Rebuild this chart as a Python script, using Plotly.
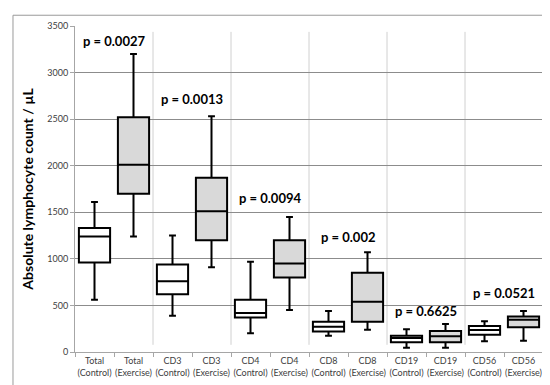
import plotly.graph_objects as go

groups = ["Total", "CD3", "CD4", "CD8", "CD19", "CD56"]
p_values = ["0.0027", "0.0013", "0.0094", "0.002", "0.6625", "0.0521"]

# five-number summaries: lower whisker, Q1, median, Q3, upper whisker
control_low = [560, 390, 200, 175, 45, 115]
control_q1 = [960, 620, 370, 220, 105, 185]
control_med = [1240, 760, 420, 270, 150, 235]
control_q3 = [1330, 940, 560, 325, 175, 280]
control_high = [1610, 1250, 970, 440, 245, 330]

exercise_low = [1240, 910, 450, 240, 45, 120]
exercise_q1 = [1700, 1200, 800, 325, 105, 265]
exercise_med = [2010, 1510, 950, 540, 170, 345]
exercise_q3 = [2520, 1870, 1200, 850, 225, 380]
exercise_high = [3200, 2530, 1450, 1070, 300, 440]

label_y = [3340, 2715, 1655, 1230, 440, 635]

cats = []
for g in groups:
    cats += [f"{g}<br>(Control)", f"{g}<br>(Exercise)"]
ctrl_x = [cats[2 * i] for i in range(len(groups))]
ex_x = [cats[2 * i + 1] for i in range(len(groups))]

font = "Lato"

fig = go.Figure()
fig.add_trace(go.Box(
    x=ctrl_x, q1=control_q1, median=control_med, q3=control_q3,
    lowerfence=control_low, upperfence=control_high,
    fillcolor="white", line=dict(color="black", width=2),
    width=0.8, whiskerwidth=0.22, boxpoints=False, showlegend=False,
    hoverinfo="skip"))
fig.add_trace(go.Box(
    x=ex_x, q1=exercise_q1, median=exercise_med, q3=exercise_q3,
    lowerfence=exercise_low, upperfence=exercise_high,
    fillcolor="#d9d9d9", line=dict(color="black", width=2),
    width=0.8, whiskerwidth=0.22, boxpoints=False, showlegend=False,
    hoverinfo="skip"))

for i, p in enumerate(p_values):
    fig.add_annotation(x=2 * i + 0.5, y=label_y[i], text=f"<b>p = {p}</b>",
                       showarrow=False, xref="x", yref="y",
                       font=dict(size=13, color="black", family=font))

# vertical separators between group pairs (decorative gridlines)
shapes = []
for i in range(1, len(groups)):
    shapes.append(dict(type="line", xref="x", yref="paper", x0=2 * i - 0.5, x1=2 * i - 0.5,
                       y0=0.022, y1=0.982, line=dict(color="#d0d0d0", width=1), layer="below"))
shapes.append(dict(type="rect", xref="paper", yref="paper",
                   x0=-0.1325, x1=1.019, y0=-0.112, y1=1.033,
                   line=dict(color="#9a9a9a", width=1), layer="above"))

fig.update_layout(
    width=550, height=385,
    margin=dict(l=67, r=15, t=14, b=41),
    paper_bgcolor="white", plot_bgcolor="white",
    boxmode="overlay",
    font=dict(family=font),
    xaxis=dict(type="category", categoryorder="array", categoryarray=cats,
               range=[-0.5, 11.5], tickangle=0, tickson="boundaries",
               ticks="outside", ticklen=4, tickcolor="#a6a6a6",
               showgrid=False, showline=True, linecolor="#a6a6a6", linewidth=1,
               tickfont=dict(size=9, color="#404040", family=font), zeroline=False),
    yaxis=dict(range=[0, 3500], dtick=500, tick0=0, tickmode="linear", showgrid=True,
               gridcolor="#8c8c8c", gridwidth=1, ticks="outside", ticklen=4, tickcolor="#a6a6a6",
               showline=True, linecolor="#a6a6a6", zeroline=False,
               tickfont=dict(size=9, color="#404040", family=font),
               title=dict(text="<b>Absolute lymphocyte count / µL</b>",
                          font=dict(size=14, color="black", family=font), standoff=10)),
    shapes=shapes,
)

fig.write_html("out.html")
